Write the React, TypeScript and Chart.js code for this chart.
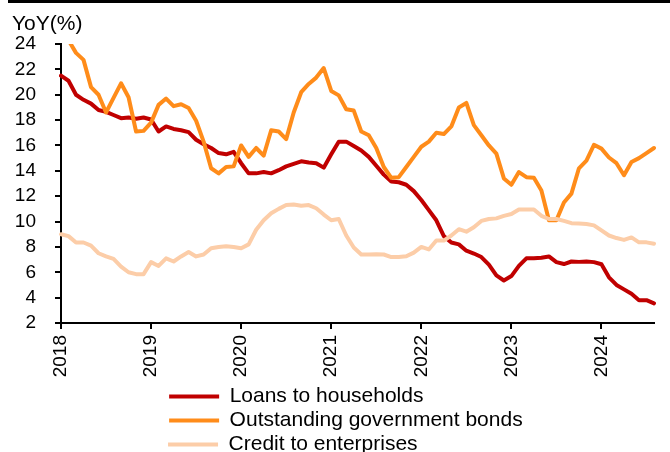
import React, { useEffect, useRef } from "react";
import { Chart, registerables } from "chart.js";

Chart.register(...registerables);

// ---------- data ----------
const seriesNames = ["Loans to households", "Outstanding government bonds", "Credit to enterprises"];
const seriesColors = ["#C00000", "#FF8C1A", "#FCCDA8"];
const yTitle = "YoY(%)";
const startYear = 2018;
const yearTicks = [2018, 2019, 2020, 2021, 2022, 2023, 2024];
const yTicks = [2, 4, 6, 8, 10, 12, 14, 16, 18, 20, 22, 24];

// monthly, Jan 2018 .. Aug 2024
const households = [
  21.5, 21.1, 20.0, 19.6, 19.3, 18.8, 18.65, 18.4, 18.15, 18.2, 18.1, 18.2,
  18.05, 17.1, 17.5, 17.3, 17.2, 17.05, 16.45, 16.1, 15.8, 15.4, 15.3, 15.5,
  14.6, 13.8, 13.8, 13.9, 13.8, 14.05, 14.35, 14.55, 14.75, 14.65, 14.6, 14.25,
  15.3, 16.3, 16.3, 15.95, 15.6, 15.1, 14.4, 13.7, 13.15, 13.1, 12.9, 12.4,
  11.7, 10.9, 10.1, 8.85, 8.35, 8.2, 7.7, 7.48, 7.2, 6.6, 5.75, 5.35,
  5.7, 6.5, 7.1, 7.1, 7.15, 7.25, 6.8, 6.65, 6.85, 6.82, 6.85, 6.8,
  6.63, 5.6, 5.0, 4.65, 4.3, 3.8, 3.8, 3.55,
];
const govBonds = [
  25.2, 24.3, 23.3, 22.75, 20.6, 20.0, 18.6, 19.75, 20.9, 19.8, 17.1, 17.15,
  17.8, 19.2, 19.7, 19.1, 19.25, 18.95, 17.95, 16.3, 14.2, 13.8, 14.3, 14.35,
  16.0, 15.1, 15.8, 15.2, 17.2, 17.1, 16.5, 18.6, 20.2, 20.85, 21.35, 22.1,
  20.3, 19.95, 18.85, 18.75, 17.1, 16.8, 15.8, 14.3, 13.45, 13.5, 14.3, 15.1,
  15.9, 16.3, 17.0, 16.9, 17.5, 19.0, 19.35, 17.6, 16.8, 16.0, 15.35, 13.4,
  12.9, 13.9, 13.5, 13.45, 12.45, 10.1, 10.1, 11.5, 12.2, 14.2, 14.8, 16.05,
  15.75, 15.05, 14.6, 13.65, 14.7, 15.0, 15.4, 15.8,
];
const enterprises = [
  9.0, 8.85, 8.35, 8.35, 8.1, 7.5, 7.25, 7.05, 6.45, 6.0, 5.85, 5.85,
  6.8, 6.5, 7.1, 6.85, 7.25, 7.6, 7.25, 7.4, 7.9, 8.0, 8.05, 8.0,
  7.9, 8.2, 9.35, 10.1, 10.65, 11.0, 11.3, 11.35, 11.25, 11.3, 11.05, 10.55,
  10.1, 10.2, 8.9, 7.95, 7.4, 7.4, 7.42, 7.4, 7.2, 7.2, 7.26, 7.55,
  8.0, 7.8, 8.5, 8.5, 8.9, 9.4, 9.2, 9.55, 10.05, 10.2, 10.25, 10.45,
  10.6, 10.95, 10.95, 10.95, 10.45, 10.2, 10.2, 10.05, 9.87, 9.84, 9.8, 9.7,
  9.3, 8.9, 8.7, 8.55, 8.75, 8.36, 8.36, 8.25,
];
const seriesValues = [households, govBonds, enterprises];

// month position as decimal year (category -> date axis)
const monthPositions = households.map((_, i) => startYear + i / 12);

const FONT = "'Liberation Sans', Arial, sans-serif";

export default function App() {
  const canvasRef = useRef<HTMLCanvasElement>(null);

  useEffect(() => {
    const canvas = canvasRef.current;
    if (!canvas) return;

    const legendFontSize = 21;
    const legendBox = 50;
    const legendPad = 3;
    const legendItemWidth = 481;
    const mctx = document.createElement("canvas").getContext("2d")!;
    mctx.font = `${legendFontSize}px ${FONT}`;
    const spaceW = mctx.measureText(" ").width || 5.8;
    const paddedNames = seriesNames.map((n) => {
      const need = legendItemWidth - legendBox - legendFontSize / 2 - mctx.measureText(n).width;
      return n + " ".repeat(Math.max(0, Math.round(need / spaceW)));
    });

    const titlePlugin = {
      id: "yoyTitle",
      afterDraw(chart: any) {
        const ctx = chart.ctx;
        ctx.save();
        ctx.font = `21px ${FONT}`;
        ctx.fillStyle = "#000";
        ctx.textBaseline = "alphabetic";
        ctx.textAlign = "left";
        ctx.fillText(yTitle, 12, 30);
        ctx.restore();
      },
    };

    const axisGrid = {
      display: true,
      drawOnChartArea: false,
      drawTicks: true,
      tickLength: 6,
      color: "#000",
      lineWidth: 2,
    };

    const chart = new Chart(canvas, {
      type: "line",
      data: {
        datasets: seriesValues.map((vals, i) => ({
          label: seriesNames[i],
          data: vals.map((v, j) => ({ x: monthPositions[j], y: v })),
          borderColor: seriesColors[i],
          backgroundColor: seriesColors[i],
          borderWidth: 4,
          pointRadius: 0,
          tension: 0,
          borderJoinStyle: "round" as const,
          borderCapStyle: "round" as const,
          order: 2 - i,
          clip: { left: 2, right: 3, top: 0, bottom: 0 },
        })),
      },
      options: {
        animation: false,
        responsive: true,
        maintainAspectRatio: false,
        devicePixelRatio: 1,
        events: [],
        layout: { padding: { left: 0, right: 16, top: 44, bottom: 0 } },
        scales: {
          x: {
            type: "linear",
            min: startYear,
            max: startYear + (households.length - 1) / 12,
            afterBuildTicks: (s: any) => {
              s.ticks = yearTicks.map((v) => ({ value: v }));
            },
            afterFit: (s: any) => {
              s.height = 60;
            },
            ticks: {
              autoSkip: false,
              maxRotation: 90,
              minRotation: 90,
              padding: 6,
              color: "#000",
              font: { size: 19, family: FONT },
              callback: (v: any) => String(v),
            },
            grid: axisGrid,
            border: { display: true, color: "#000", width: 2 },
          },
          y: {
            min: 2,
            max: 24,
            afterBuildTicks: (s: any) => {
              s.ticks = yTicks.map((v) => ({ value: v }));
            },
            afterFit: (s: any) => {
              s.width = 61;
            },
            ticks: {
              autoSkip: false,
              padding: 19,
              color: "#000",
              font: { size: 19, family: FONT },
              callback: (v: any) => String(v),
            },
            grid: axisGrid,
            border: { display: true, color: "#000", width: 2 },
          },
        },
        plugins: {
          tooltip: { enabled: false },
          title: { display: false },
          legend: {
            display: true,
            position: "bottom",
            align: "end",
            labels: {
              boxWidth: legendBox,
              boxHeight: 4,
              padding: legendPad,
              color: "#000",
              font: { size: legendFontSize, family: FONT },
              generateLabels: () =>
                paddedNames.map((t, i) => ({
                  text: t,
                  fillStyle: seriesColors[i],
                  strokeStyle: seriesColors[i],
                  lineWidth: 0,
                  hidden: false,
                  datasetIndex: i,
                  fontColor: "#000",
                })),
            },
          },
        },
      },
      plugins: [titlePlugin],
    } as any);

    return () => chart.destroy();
  }, []);

  return (
    <div
      style={{
        position: "fixed",
        left: 0,
        top: 0,
        width: 670,
        height: 452,
        overflow: "hidden",
        background: "#fff",
      }}
    >
      <div style={{ position: "absolute", left: 8, top: 0, width: 662, height: 3, background: "#000" }} />
      <div style={{ position: "absolute", left: 0, top: 0, width: 670, height: 465 }}>
        <canvas ref={canvasRef} />
      </div>
    </div>
  );
}
